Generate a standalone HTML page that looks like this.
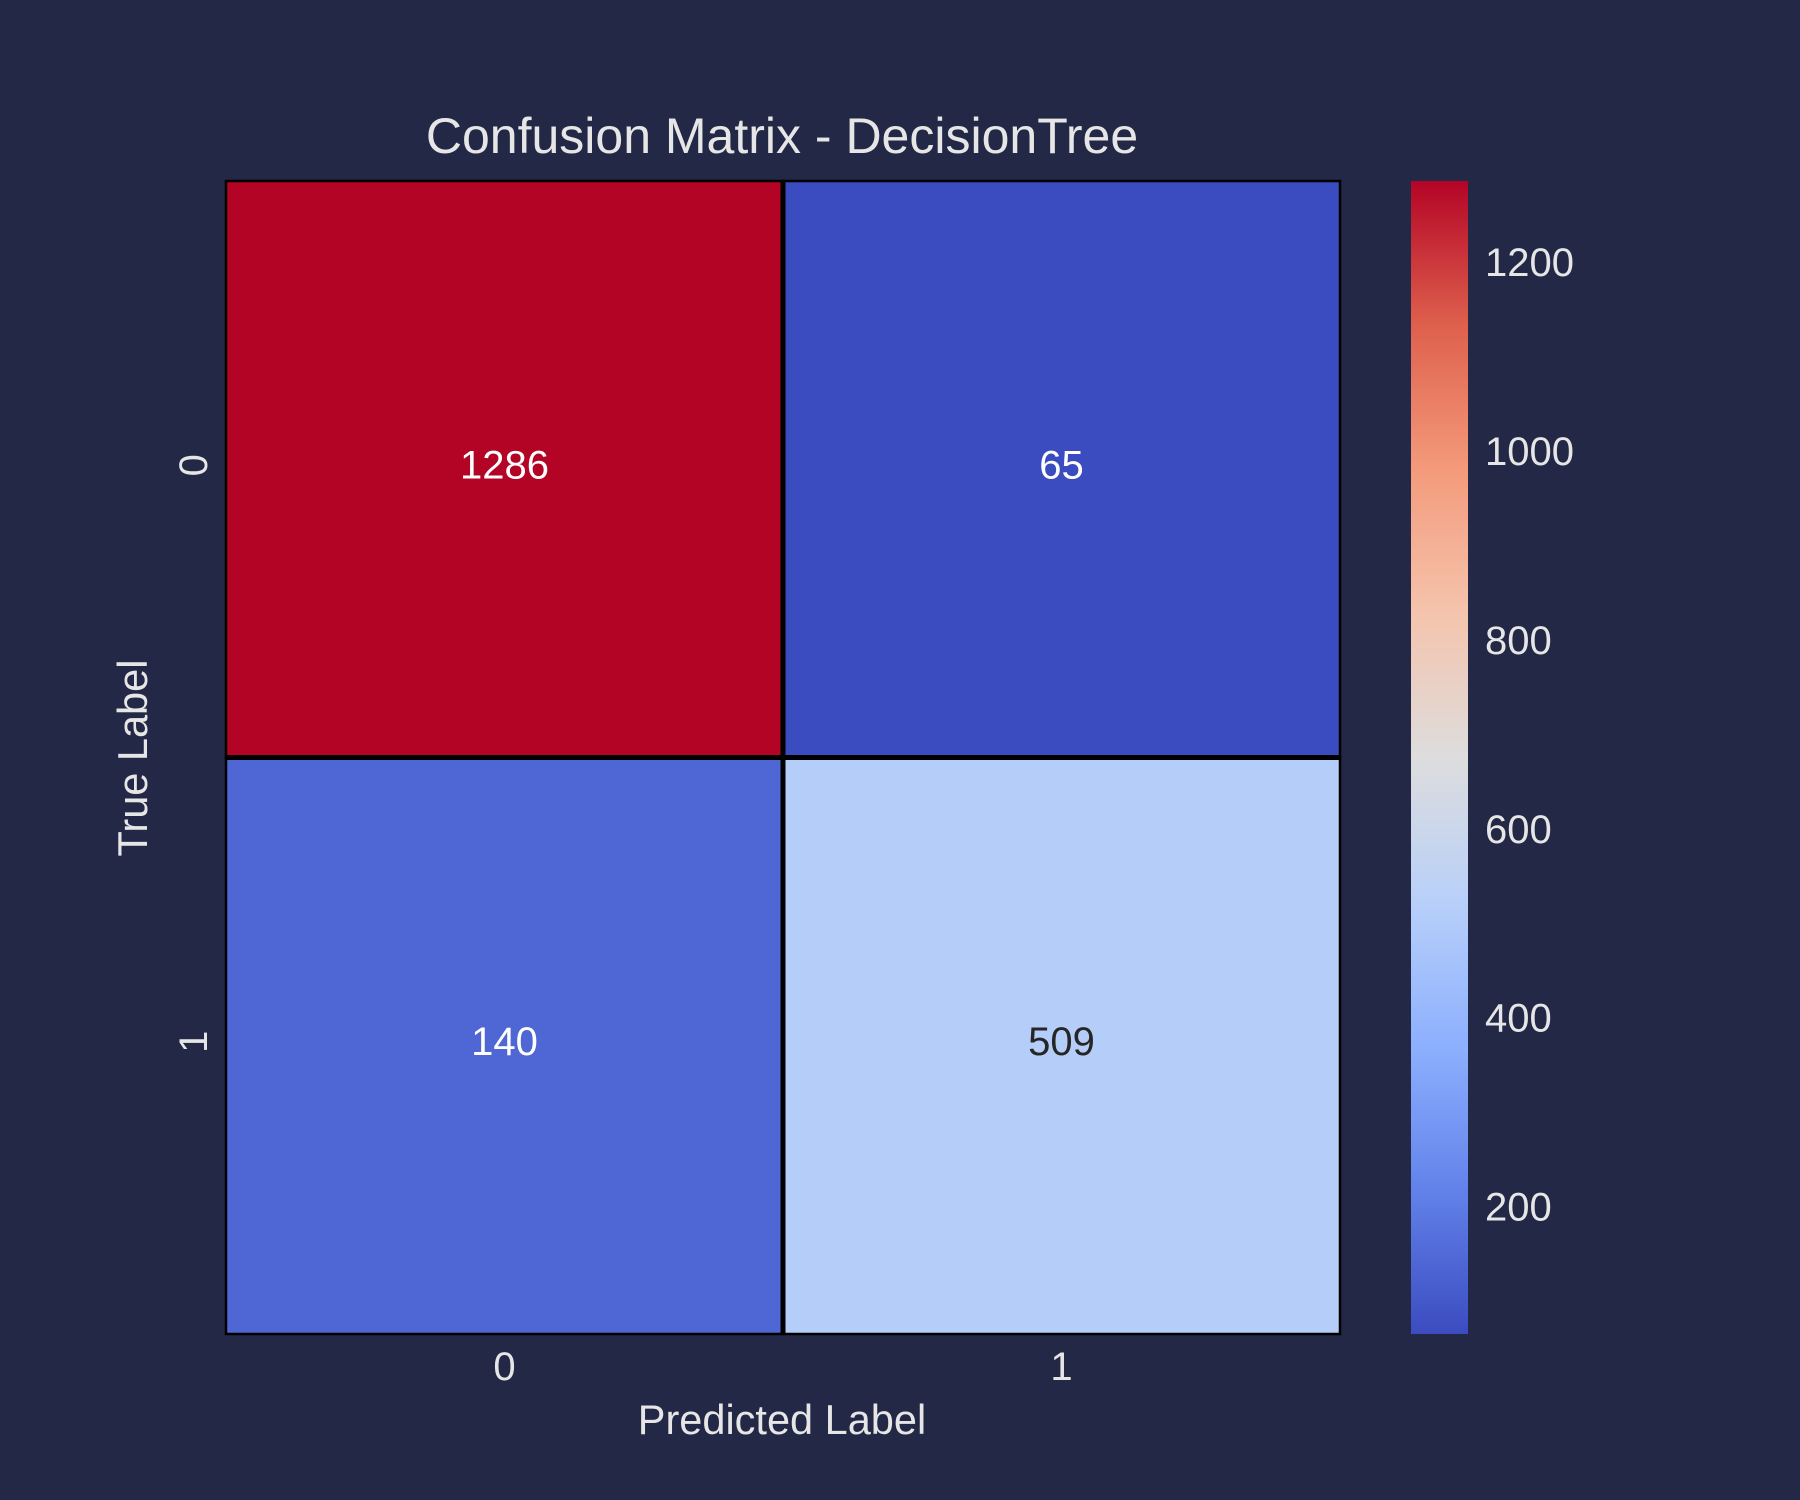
<!DOCTYPE html>
<html><head><meta charset="utf-8"><style>
body{margin:0;background:#222845;}
svg{display:block;font-family:"Liberation Sans",sans-serif;}
</style></head><body>
<svg id="chart" width="1800" height="1500" viewBox="0 0 1800 1500">
<defs><linearGradient id="cbgrad" x1="0" y1="1" x2="0" y2="0">
<stop offset="0" stop-color="#3b4cc0"/><stop offset="0.125" stop-color="#6282ea"/><stop offset="0.25" stop-color="#8db0fe"/><stop offset="0.375" stop-color="#b8d0f9"/><stop offset="0.5" stop-color="#dddddd"/><stop offset="0.625" stop-color="#f5c4ad"/><stop offset="0.75" stop-color="#f49a7b"/><stop offset="0.875" stop-color="#de604d"/><stop offset="1" stop-color="#b40426"/></linearGradient></defs>
<rect width="1800" height="1500" fill="#222845"/>
<text x="782" y="153" font-size="50" fill="#e6e6e6" text-anchor="middle">Confusion Matrix - DecisionTree</text>
<g id="cells"></g>
<rect x="1411" y="181" width="57" height="1153" fill="url(#cbgrad)"/>
<g id="cbticks"></g>
<g id="axticks"></g>
<text x="782" y="1434" font-size="41.5" fill="#e6e6e6" text-anchor="middle">Predicted Label</text>
<text x="0" y="0" font-size="41.5" fill="#e6e6e6" text-anchor="middle" transform="translate(147,758) rotate(-90)">True Label</text>
</svg>
<script>
const classes = ["0","1"];
const matrix = [[1286,65],[140,509]];
const cbTicks = [200,400,600,800,1000,1200];
const vmin = 65, vmax = 1286;
const L=226,R=1340,T=181,B=1334;
const NS="http://www.w3.org/2000/svg";
const stops=[[59,76,192],[98,130,234],[141,176,254],[184,208,249],[221,221,221],[245,196,173],[244,154,123],[222,96,77],[180,4,38]];
function cmap(v){let t=(v-vmin)/(vmax-vmin);t=Math.max(0,Math.min(1,t))*8;let i=Math.min(7,Math.floor(t)),f=t-i;const a=stops[i],b=stops[i+1];return `rgb(${a.map((c,k)=>Math.round(c+(b[k]-c)*f)).join(",")})`;}
function lum(v){let t=(v-vmin)/(vmax-vmin);return t>0.3&&t<0.75;}
const cw=(R-L)/classes.length,ch=(B-T)/classes.length;
function xPos(j){return L+j*cw;} function yPos(i){return T+i*ch;}
function cbY(v){return B-(v-vmin)/(vmax-vmin)*(B-T);}
const cells=document.getElementById('cells');
matrix.forEach((row,i)=>row.forEach((v,j)=>{
 const r=document.createElementNS(NS,'rect');
 r.setAttribute('x',xPos(j));r.setAttribute('y',yPos(i));r.setAttribute('width',cw);r.setAttribute('height',ch);
 r.setAttribute('fill',cmap(v));r.setAttribute('stroke','#000');r.setAttribute('stroke-width','2.5');
 
 
 cells.appendChild(r);
}));
const grid=document.createElementNS(NS,'path');
grid.setAttribute('d',`M${L+cw},${T}V${B}M${L},${T+ch}H${R}`);
grid.setAttribute('stroke','#000');grid.setAttribute('stroke-width','5');


cells.appendChild(grid);
matrix.forEach((row,i)=>row.forEach((v,j)=>{
 const t=document.createElementNS(NS,'text');
 t.setAttribute('x',xPos(j)+cw/2);t.setAttribute('y',yPos(i)+ch/2+9);t.setAttribute('font-size','40');
 t.setAttribute('text-anchor','middle');t.setAttribute('fill',lum(v)?'#262626':'#ffffff');t.textContent=v;
 
 
 cells.appendChild(t);
}));
const cb=document.getElementById('cbticks');
cbTicks.forEach(v=>{const t=document.createElementNS(NS,'text');
 t.setAttribute('x',1485);t.setAttribute('y',cbY(v)+14);t.setAttribute('font-size','40');t.setAttribute('fill','#e6e6e6');t.textContent=v;
 
 
 cb.appendChild(t);});
const ax=document.getElementById('axticks');
classes.forEach((c,j)=>{const t=document.createElementNS(NS,'text');
 t.setAttribute('x',xPos(j)+cw/2);t.setAttribute('y',1380);t.setAttribute('font-size','40');t.setAttribute('fill','#e6e6e6');t.setAttribute('text-anchor','middle');t.textContent=c;
 
 
 ax.appendChild(t);
 const u=document.createElementNS(NS,'text');
 u.setAttribute('transform',`translate(207,${yPos(j)+ch/2-4}) rotate(-90)`);u.setAttribute('font-size','40');u.setAttribute('fill','#e6e6e6');u.setAttribute('text-anchor','middle');u.textContent=c;
 
 
 ax.appendChild(u);});
</script>
</body></html>
